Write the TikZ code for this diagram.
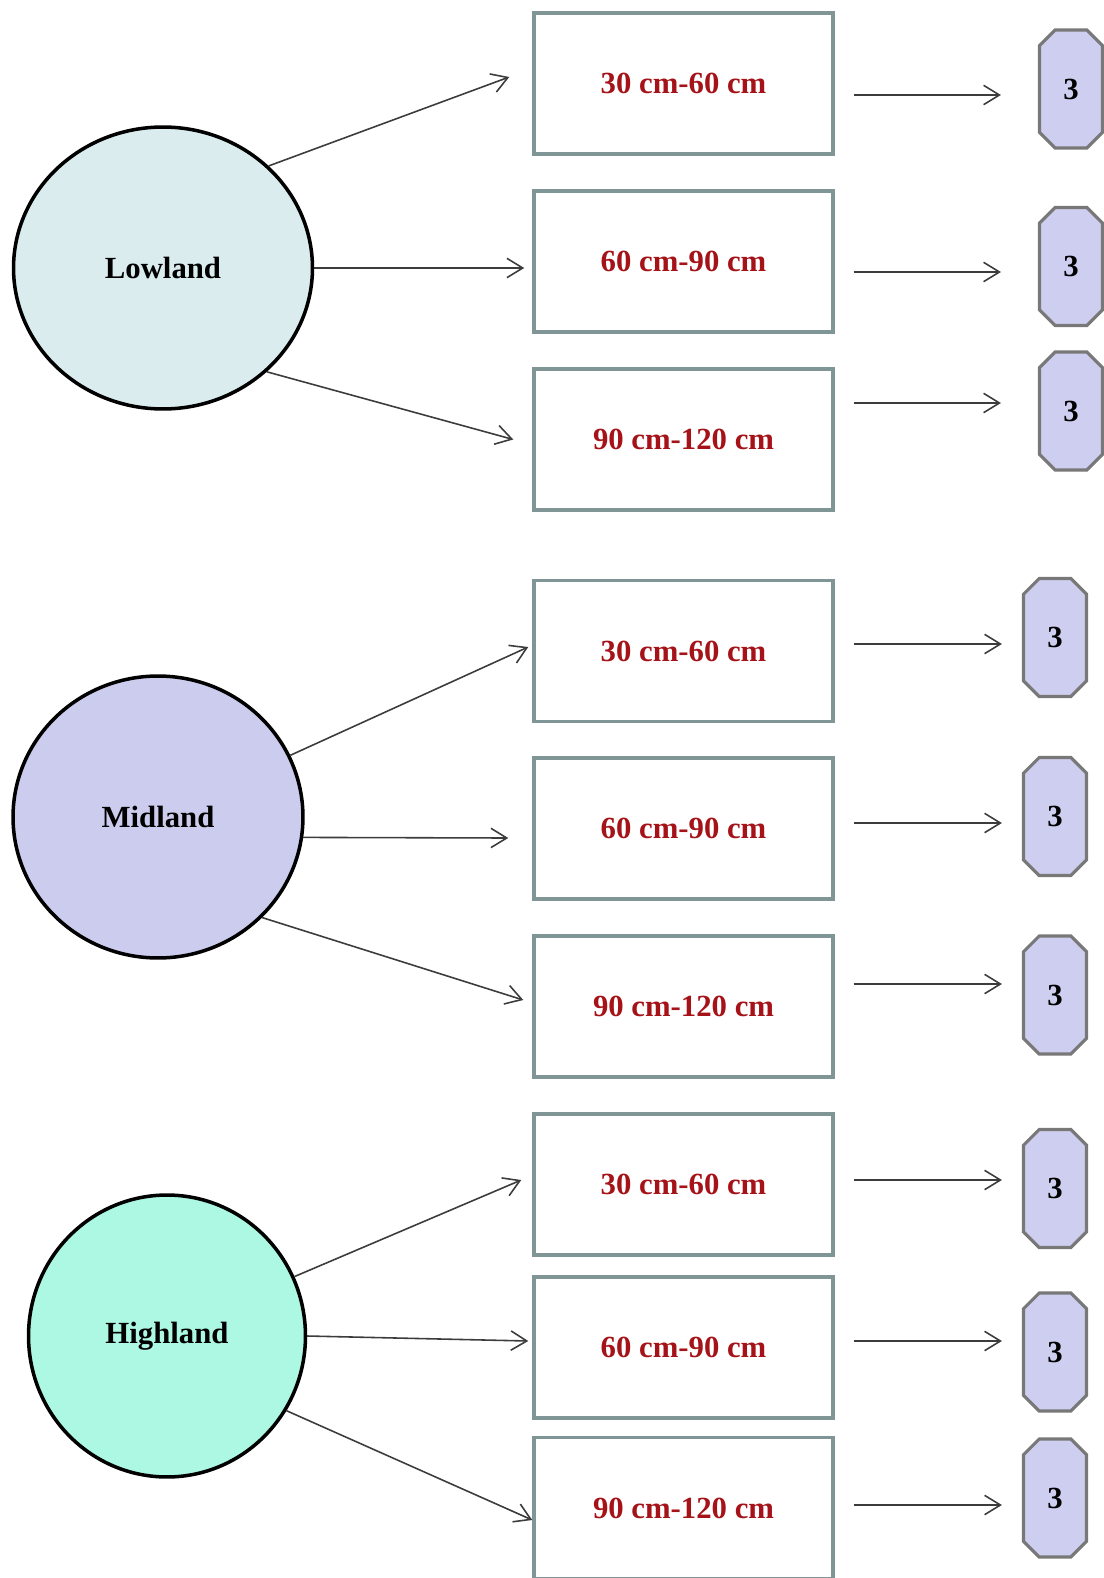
\documentclass[tikz,border=0pt]{standalone}
\usepackage{fontspec}
\setmainfont{Liberation Serif}
\usepackage{tikz}
\usetikzlibrary{shapes.geometric, shapes.misc, arrows.meta, calc}
\definecolor{lowfill}{RGB}{218,236,238}
\definecolor{midfill}{RGB}{204,204,238}
\definecolor{highfill}{RGB}{172,248,226}
\definecolor{octfill}{RGB}{206,206,240}
\definecolor{boxline}{RGB}{128,150,150}
\definecolor{octline}{RGB}{120,120,120}
\definecolor{rangered}{RGB}{165,18,24}
\definecolor{arrowgray}{RGB}{60,60,60}

\begin{document}
\begin{tikzpicture}[
    x=0.02cm, y=-0.02cm,
    zonenode/.style={ellipse, draw=black, line width=2pt, inner sep=0pt, minimum height=5.64cm,
                 font=\fontsize{17.5}{21}\selectfont\bfseries},
    rangebox/.style={rectangle, draw=boxline, line width=2pt, minimum width=5.98cm, minimum height=2.82cm,
                  inner sep=0pt, text=rangered, font=\fontsize{17.5}{21}\selectfont\bfseries},
    countbox/.style={chamfered rectangle, chamfered rectangle xsep=0.3cm, draw=octline, fill=octfill,
                  line width=1.8pt, minimum width=1.26cm, minimum height=2.36cm, inner sep=0pt,
                  font=\fontsize{17.5}{21}\selectfont\bfseries},
    arrow/.style={-{Straight Barb[length=9pt, width=11pt]}, line width=0.9pt, color=arrowgray}
]
\useasboundingbox (0,0) rectangle (1104,1578);

% elevation zones
\node[zonenode, fill=lowfill,  minimum width=5.98cm] (low)  at (163,268)  {Lowland};
\node[zonenode, fill=midfill,  minimum width=5.80cm] (mid)  at (158,817)  {Midland};
\node[zonenode, fill=highfill, minimum width=5.54cm] (high) at (167,1336) {Highland};

% depth ranges
\node[rangebox] (b1) at (683.5,83.5)   {30 cm-60 cm};
\node[rangebox] (b2) at (683.5,261.5)  {60 cm-90 cm};
\node[rangebox] (b3) at (683.5,439.5)  {90 cm-120 cm};
\node[rangebox] (b4) at (683.5,651)    {30 cm-60 cm};
\node[rangebox] (b5) at (683.5,828.5)  {60 cm-90 cm};
\node[rangebox] (b6) at (683.5,1006.5) {90 cm-120 cm};
\node[rangebox] (b7) at (683.5,1184.5) {30 cm-60 cm};
\node[rangebox] (b8) at (683.5,1347.5) {60 cm-90 cm};
\node[rangebox] (b9) at (683.5,1508)   {90 cm-120 cm};

% counts
\node[countbox] (o1) at (1071,89)    {3};
\node[countbox] (o2) at (1071,266.5) {3};
\node[countbox] (o3) at (1071,411)   {3};
\node[countbox] (o4) at (1055,637.5) {3};
\node[countbox] (o5) at (1055,816.5) {3};
\node[countbox] (o6) at (1055,995)   {3};
\node[countbox] (o7) at (1055,1188.5) {3};
\node[countbox] (o8) at (1055,1352)  {3};
\node[countbox] (o9) at (1055,1498)  {3};

% zone -> range
\draw[arrow] (low.44)   -- ($(b1.west)+(-23,-6.5)$);
\draw[arrow] (low.east) -- ($(low.east -| b2.west)+(-8,0)$);
\draw[arrow] (low.-45)  -- ($(b3.west)+(-19,0)$);
\draw[arrow] (mid.25)   -- ($(b4.west)+(-4,-4)$);
\draw[arrow] (mid.-8)   -- ($(b5.west)+(-24,9.5)$);
\draw[arrow] (mid.-44)  -- ($(b6.west)+(-9,-6.5)$);
\draw[arrow] (high.25)   -- ($(b7.west)+(-11,-4.5)$);
\draw[arrow] (high.east) -- ($(b8.west)+(-4,-6.5)$);
\draw[arrow] (high.-32)  -- ($(b9.west)+(0,12)$);

% range -> count
\draw[arrow, shorten <=0.38cm, shorten >=0.74cm] (b1.east |- 0,95)  -- (o1.west |- 0,95);
\draw[arrow, shorten <=0.38cm, shorten >=0.74cm] (b2.east |- 0,272) -- (o2.west |- 0,272);
\draw[arrow, shorten <=0.38cm, shorten >=0.74cm] (b3.east |- 0,403) -- (o3.west |- 0,403);
\draw[arrow, shorten <=0.38cm, shorten >=0.4cm] (b4.east |- 0,644)  -- (o4.west |- 0,644);
\draw[arrow, shorten <=0.38cm, shorten >=0.4cm] (b5.east |- 0,823)  -- (o5.west |- 0,823);
\draw[arrow, shorten <=0.38cm, shorten >=0.4cm] (b6.east |- 0,984)  -- (o6.west |- 0,984);
\draw[arrow, shorten <=0.38cm, shorten >=0.4cm] (b7.east |- 0,1180) -- (o7.west |- 0,1180);
\draw[arrow, shorten <=0.38cm, shorten >=0.4cm] (b8.east |- 0,1341) -- (o8.west |- 0,1341);
\draw[arrow, shorten <=0.38cm, shorten >=0.4cm] (b9.east |- 0,1505) -- (o9.west |- 0,1505);

\end{tikzpicture}
\end{document}
